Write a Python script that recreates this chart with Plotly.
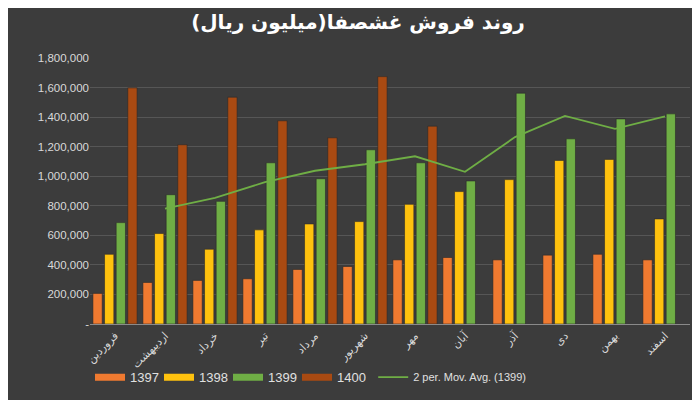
import plotly.graph_objects as go

# ماه‌ها
months = ["فروردین", "اردیبهشت", "خرداد", "تیر", "مرداد", "شهریور",
          "مهر", "آبان", "آذر", "دی", "بهمن", "اسفند"]

# فروش ماهانه (میلیون ریال)
sales_1397 = [207000, 281000, 295000, 306000, 369000, 389000,
              434000, 450000, 434000, 466000, 472000, 434000]
sales_1398 = [472000, 612000, 506000, 637000, 677000, 693000,
              810000, 896000, 977000, 1107000, 1114000, 711000]
sales_1399 = [686000, 875000, 830000, 1091000, 983000, 1179000,
              1091000, 968000, 1562000, 1253000, 1388000, 1422000]
sales_1400 = [1598000, 1213000, 1535000, 1375000, 1260000, 1674000,
              1339000, None, None, None, None, None]

# میانگین متحرک دو دوره‌ای ۱۳۹۹ (خوانده از نمودار)
ma_months = months[1:]
ma_1399 = [780000, 853000, 960000, 1037000, 1081000, 1135000,
           1030000, 1265000, 1408000, 1320000, 1405000]

y_ticks = [0, 200000, 400000, 600000, 800000, 1000000,
           1200000, 1400000, 1600000, 1800000]
y_labels = ["-"] + [f"{v:,}" for v in y_ticks[1:]]

fig = go.Figure()

series = [
    ("1397", sales_1397, "#F07A30"),
    ("1398", sales_1398, "#FFC20E"),
    ("1399", sales_1399, "#6FAE45"),
    ("1400", sales_1400, "#A94A12"),
]
for name, vals, color in series:
    fig.add_trace(go.Bar(
        x=months, y=vals, name=name, legendgroup=name, showlegend=False,
        marker=dict(color=color, line=dict(color="#2a2a2a", width=0.6)),
    ))
    # نماد پهن راهنما مثل اکسل
    fig.add_trace(go.Scatter(
        x=[None], y=[None], name=name, legendgroup=name,
        mode="lines", line=dict(color=color, width=7),
    ))

fig.add_trace(go.Scatter(
    x=ma_months, y=ma_1399, name="2 per. Mov. Avg. (1399)",
    mode="lines", line=dict(color="#6FAE45", width=1.8),
    legend="legend2",
))

fig.update_layout(
    width=700, height=400,
    paper_bgcolor="#3c3c3c",
    plot_bgcolor="#3c3c3c",
    barmode="group",
    bargap=0.07,
    bargroupgap=0.2,
    margin=dict(l=82, r=18, t=50, b=84, autoexpand=False),
    title=dict(
        text="<b>روند فروش غشصفا(میلیون ریال)</b>",
        x=0.5, xanchor="center", y=0.965, yanchor="middle",
        font=dict(family="DejaVu Sans", size=20, color="#ffffff"),
    ),
    font=dict(family="Liberation Sans, Arial", color="#d9d9d9", size=11),
    legend=dict(
        orientation="h", x=0.0, xanchor="left", y=-0.2, yanchor="middle",
        font=dict(size=13, color="#e0e0e0"),
        bgcolor="rgba(0,0,0,0)",
        entrywidth=24, entrywidthmode="pixels",
        traceorder="normal",
    ),
    legend2=dict(
        orientation="h", x=0.472, xanchor="left", y=-0.2, yanchor="middle",
        font=dict(size=11, color="#e0e0e0"),
        bgcolor="rgba(0,0,0,0)",
    ),
    showlegend=True,
)

fig.update_xaxes(
    tickangle=-45,
    tickfont=dict(family="DejaVu Sans", size=11, color="#d9d9d9"),
    showline=True, linecolor="#8a8a8a", linewidth=1,
    showgrid=False,
)
fig.update_yaxes(
    range=[0, 1800000],
    tickvals=y_ticks, ticktext=y_labels,
    showgrid=True, gridcolor="#565656", gridwidth=1,
    zeroline=False, showline=False,
    tickfont=dict(size=11.5, color="#d9d9d9"),
)

fig.write_html("out.html")
